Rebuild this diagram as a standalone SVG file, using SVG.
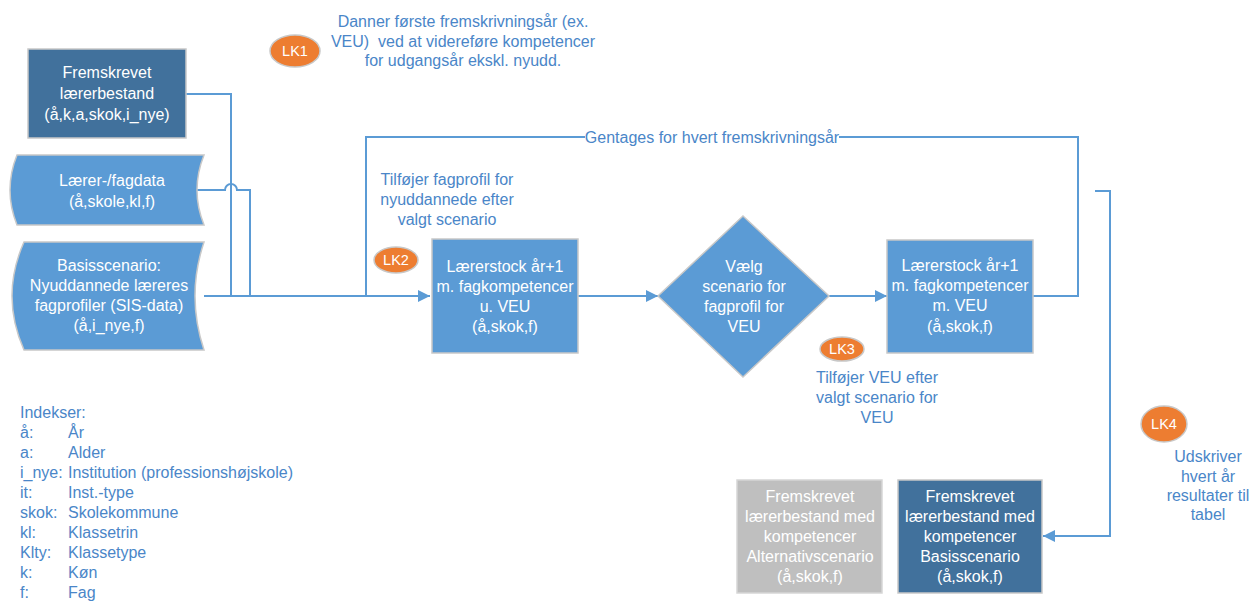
<svg xmlns="http://www.w3.org/2000/svg" width="1260" height="601" viewBox="0 0 1260 601">
<defs>
<style>
.box{fill:#5B9BD5;stroke:#C8C8C8;stroke-width:1.5}
.dark{fill:#41719C;stroke:#C8C8C8;stroke-width:1.5}
.gray{fill:#BFBFBF;stroke:#D6D6D6;stroke-width:1.5}
.lk{fill:#ED7D31;stroke:#C8C8C8;stroke-width:1.5}
.wt{fill:#FFFFFF;font-family:"Liberation Sans",Arial,sans-serif;font-size:16px;text-anchor:middle}
.lkt{fill:#FFFFFF;font-family:"Liberation Sans",Arial,sans-serif;font-size:14.5px;text-anchor:middle}
.bt{fill:#4A86C8;font-family:"Liberation Sans",Arial,sans-serif;font-size:16px;text-anchor:middle}
.idx{fill:#4A86C8;font-family:"Liberation Sans",Arial,sans-serif;font-size:16px}
.con{fill:none;stroke:#5B9BD5;stroke-width:2}
</style>
<marker id="arr" viewBox="0 0 12 12" refX="12" refY="6" markerWidth="12" markerHeight="12" markerUnits="userSpaceOnUse" orient="auto">
<path d="M0,0 L12,6 L0,12 Z" fill="#5B9BD5"/>
</marker>
</defs>
<rect width="1260" height="601" fill="#FFFFFF"/>

<g id="connectors">
<path class="con" d="M186,94 L231,94 L231,296"/>
<path class="con" d="M197,190 L225,190 A6,6 0 0 1 237,190 L250,190 L250,296"/>
<path class="con" d="M204,296 L430,296" marker-end="url(#arr)"/>
<path class="con" d="M1033,296 L1078,296 L1078,137 L366,137 L366,296"/>
<path class="con" d="M578,296 L658,296" marker-end="url(#arr)"/>
<path class="con" d="M829,296 L887,296" marker-end="url(#arr)"/>
<path class="con" d="M1095,191 L1110,191 L1110,536 L1043,536" marker-end="url(#arr)"/>
<rect x="585" y="128" width="254" height="18" fill="#FFFFFF"/>
<text class="bt" x="712" y="143">Gentages for hvert fremskrivningsår</text>
</g>

<g id="n-fremskrevet">
<rect class="dark" x="28" y="49" width="158" height="89"/>
<text class="wt" x="107" y="78">Fremskrevet</text>
<text class="wt" x="107" y="99">lærerbestand</text>
<text class="wt" x="107" y="120">(å,k,a,skok,i_nye)</text>
</g>

<g id="n-laererfag">
<path class="box" d="M204,155 L17,155 Q3,190 17,225 L204,225 Q190,190 204,155 Z"/>
<text class="wt" x="112" y="186">Lærer-/fagdata</text>
<text class="wt" x="112" y="207">(å,skole,kl,f)</text>
</g>

<g id="n-basis">
<path class="box" d="M204,242 L24,242 Q0,296 24,350 L204,350 Q186,296 204,242 Z"/>
<text class="wt" x="109" y="271">Basisscenario:</text>
<text class="wt" x="109" y="291">Nyuddannede læreres</text>
<text class="wt" x="109" y="311">fagprofiler (SIS-data)</text>
<text class="wt" x="109" y="331">(å,i_nye,f)</text>
</g>

<g id="n-stock1">
<rect class="box" x="432" y="239" width="146" height="114"/>
<text class="wt" x="505" y="272">Lærerstock år+1</text>
<text class="wt" x="505" y="292">m. fagkompetencer</text>
<text class="wt" x="505" y="312">u. VEU</text>
<text class="wt" x="505" y="332">(å,skok,f)</text>
</g>

<g id="n-diamond">
<path class="box" d="M743,216 L829,296 L743,377 L658,296 Z"/>
<text class="wt" x="744" y="272">Vælg</text>
<text class="wt" x="744" y="292">scenario for</text>
<text class="wt" x="744" y="312">fagprofil for</text>
<text class="wt" x="744" y="332">VEU</text>
</g>

<g id="n-stock2">
<rect class="box" x="887" y="240" width="146" height="113"/>
<text class="wt" x="960" y="271">Lærerstock år+1</text>
<text class="wt" x="960" y="291">m. fagkompetencer</text>
<text class="wt" x="960" y="311">m. VEU</text>
<text class="wt" x="960" y="332">(å,skok,f)</text>
</g>

<g id="n-alt">
<rect class="gray" x="737" y="480" width="145" height="113"/>
<text class="wt" x="810" y="502">Fremskrevet</text>
<text class="wt" x="810" y="522">lærerbestand med</text>
<text class="wt" x="810" y="542">kompetencer</text>
<text class="wt" x="810" y="562">Alternativscenario</text>
<text class="wt" x="810" y="582">(å,skok,f)</text>
</g>

<g id="n-basisres">
<rect class="dark" x="898" y="480" width="144" height="113"/>
<text class="wt" x="970" y="502">Fremskrevet</text>
<text class="wt" x="970" y="522">lærerbestand med</text>
<text class="wt" x="970" y="542">kompetencer</text>
<text class="wt" x="970" y="562">Basisscenario</text>
<text class="wt" x="970" y="582">(å,skok,f)</text>
</g>

<g id="n-lk1">
<ellipse class="lk" cx="295" cy="51" rx="25" ry="16"/>
<text class="lkt" x="295" y="56">LK1</text>
</g>
<g id="n-lk2">
<ellipse class="lk" cx="396" cy="260" rx="22" ry="13"/>
<text class="lkt" x="396" y="265">LK2</text>
</g>
<g id="n-lk3">
<ellipse class="lk" cx="842" cy="349" rx="22" ry="12"/>
<text class="lkt" x="842" y="354">LK3</text>
</g>
<g id="n-lk4">
<ellipse class="lk" cx="1164" cy="424" rx="23" ry="18"/>
<text class="lkt" x="1164" y="429">LK4</text>
</g>

<g id="n-note1">
<text class="bt" x="463" y="27">Danner første fremskrivningsår (ex.</text>
<text class="bt" x="463" y="47">VEU)&#160; ved at videreføre kompetencer</text>
<text class="bt" x="463" y="66">for udgangsår ekskl. nyudd.</text>
</g>
<g id="n-note2">
<text class="bt" x="447" y="185">Tilføjer fagprofil for</text>
<text class="bt" x="447" y="205">nyuddannede efter</text>
<text class="bt" x="447" y="225">valgt scenario</text>
</g>
<g id="n-note3">
<text class="bt" x="877" y="383">Tilføjer VEU efter</text>
<text class="bt" x="877" y="403">valgt scenario for</text>
<text class="bt" x="877" y="423">VEU</text>
</g>
<g id="n-note4">
<text class="bt" x="1208" y="462">Udskriver</text>
<text class="bt" x="1208" y="482">hvert år</text>
<text class="bt" x="1208" y="501">resultater til</text>
<text class="bt" x="1208" y="520">tabel</text>
</g>

<g id="n-index">
<text class="idx" x="20" y="418">Indekser:</text>
<text class="idx" x="20" y="438">å:</text><text class="idx" x="68" y="438">År</text>
<text class="idx" x="20" y="458">a:</text><text class="idx" x="68" y="458">Alder</text>
<text class="idx" x="20" y="478">i_nye:</text><text class="idx" x="68" y="478">Institution (professionshøjskole)</text>
<text class="idx" x="20" y="498">it:</text><text class="idx" x="68" y="498">Inst.-type</text>
<text class="idx" x="20" y="518">skok:</text><text class="idx" x="68" y="518">Skolekommune</text>
<text class="idx" x="20" y="538">kl:</text><text class="idx" x="68" y="538">Klassetrin</text>
<text class="idx" x="20" y="558">Klty:</text><text class="idx" x="68" y="558">Klassetype</text>
<text class="idx" x="20" y="578">k:</text><text class="idx" x="68" y="578">Køn</text>
<text class="idx" x="20" y="598">f:</text><text class="idx" x="68" y="598">Fag</text>
</g>
</svg>
